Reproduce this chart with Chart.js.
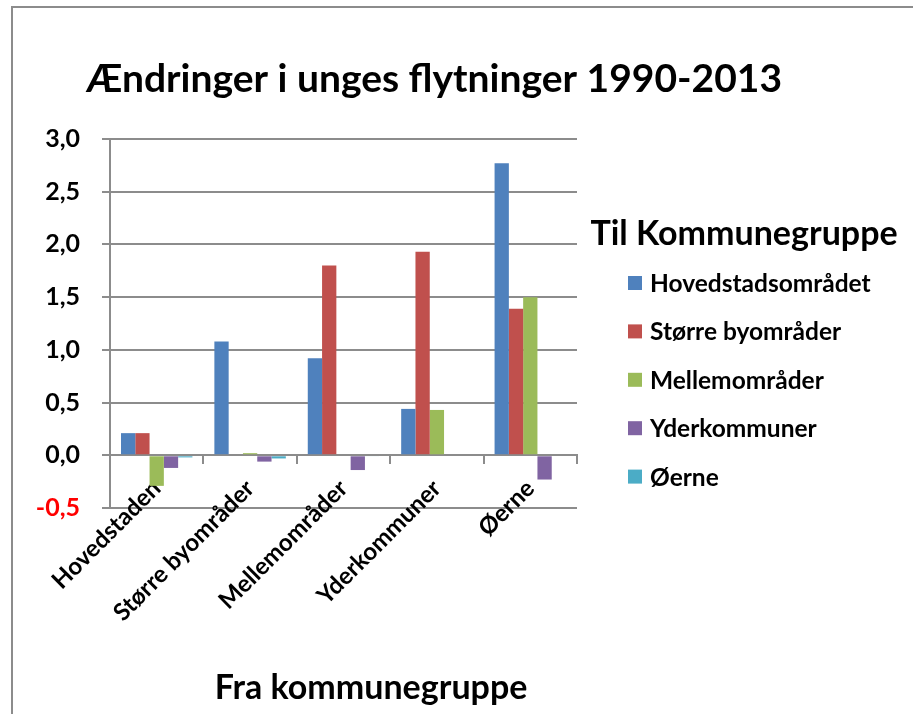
<!DOCTYPE html>
<html>
<head>
<meta charset="utf-8">
<script src="https://cdn.jsdelivr.net/npm/chart.js@4.4.1/dist/chart.umd.min.js"></script>
<style>
  html, body { margin: 0; padding: 0; background: #fff; overflow: hidden; }
  #ramme { position: absolute; left: 11px; top: 6px; width: 1000px; height: 800px;
           border-left: 2px solid #8c8c8c; border-top: 2px solid #8c8c8c; }
  #boks { position: absolute; left: 0; top: 0; width: 913px; height: 714px; }
</style>
</head>
<body>
<div id="ramme"></div>
<div id="boks"><canvas id="grafik" width="913" height="714"></canvas></div>
<script>
// Fra kommunegruppe (kategorier)
const kategorier = ["Hovedstaden", "Større byområder", "Mellemområder", "Yderkommuner", "Øerne"];

// Til kommunegruppe (serier)
const hovedstadsomraadet = [0.21, 1.08, 0.92, 0.44, 2.77];
const stoerreByomraader  = [0.21, 0.00, 1.80, 1.93, 1.39];
const mellemomraader     = [-0.29, 0.02, 0.00, 0.43, 1.50];
const yderkommuner       = [-0.12, -0.06, -0.14, 0.00, -0.23];
const oerne              = [-0.02, -0.03, -0.01, 0.00, 0.00];

const serieNavne = ["Hovedstadsområdet", "Større byområder", "Mellemområder", "Yderkommuner", "Øerne"];
const serieData = [hovedstadsomraadet, stoerreByomraader, mellemomraader, yderkommuner, oerne];
const farver = ["#4F81BD", "#C0504D", "#9BBB59", "#8064A2", "#4BACC6"];

// y-aksen
const yMin = -0.5;
const yMax = 3.0;
const yTrin = 0.5;

const titel = "Ændringer i unges flytninger 1990-2013";
const xTitel = "Fra kommunegruppe";
const legendTitel = "Til Kommunegruppe";

Chart.defaults.font.family = "Lato, 'Open Sans', sans-serif";
Chart.defaults.color = "#000";

const gitterFarve = "#8c8c8c";

// tegner titler og signaturforklaring (Chart.js giver for lidt plads til legenden i højre side)
const teksterPlugin = {
  id: "tekster",
  afterDraw(chart) {
    const c = chart.ctx;
    c.save();
    c.fillStyle = "#000";
    c.textBaseline = "middle";

    c.textAlign = "center";
    c.font = "bold 39px Lato";
    c.fillText(titel, 434, 79);

    c.font = "bold 34px Lato";
    c.fillText(xTitel, 371, 688);
    c.fillText(legendTitel, 744, 234);

    c.textAlign = "left";
    c.font = "bold 24.5px Lato";
    chart.data.datasets.forEach((ds, i) => {
      const y = 283 + i * 48.4;
      c.fillStyle = ds.backgroundColor;
      c.fillRect(628, y - 7, 14, 14);
      c.fillStyle = "#000";
      c.fillText(ds.label, 650, y + 1);
    });
    c.restore();
  }
};

const ctx = document.getElementById("grafik").getContext("2d");
new Chart(ctx, {
  type: "bar",
  data: {
    labels: kategorier,
    datasets: serieNavne.map((navn, i) => ({
      label: navn,
      data: serieData[i],
      backgroundColor: farver[i],
      borderWidth: 0,
      categoryPercentage: 0.765,
      barPercentage: 1.0
    }))
  },
  options: {
    responsive: false,
    animation: false,
    devicePixelRatio: 1,
    layout: { padding: { left: 12, top: 139, right: 336, bottom: 206 } },
    plugins: {
      title: { display: false },
      tooltip: { enabled: false },
      legend: { display: false }
    },
    scales: {
      x: {
        position: { y: 0 },
        offset: true,
        z: 1,
        grid: {
          display: true,
          drawOnChartArea: false,
          drawTicks: true,
          tickLength: 8,
          color: gitterFarve,
          lineWidth: 2
        },
        border: { display: true, color: gitterFarve, width: 2 },
        ticks: {
          minRotation: 45,
          maxRotation: 45,
          padding: 11,
          color: "#000",
          font: { size: 24, weight: "bold" }
        }
      },
      y: {
        min: yMin,
        max: yMax,
        grid: {
          color: gitterFarve,
          lineWidth: 2,
          drawTicks: true,
          tickLength: 8
        },
        border: { display: true, color: gitterFarve, width: 2 },
        ticks: {
          stepSize: yTrin,
          padding: 22,
          font: { size: 25, weight: "bold" },
          color: (c) => (c.tick && c.tick.value < 0 ? "#ff0000" : "#000"),
          callback: (v) => (Math.round(v * 10) / 10).toFixed(1).replace(".", ",")
        },
        afterFit: (s) => { s.width = 98; }
      }
    }
  },
  plugins: [teksterPlugin]
});
</script>
</body>
</html>
